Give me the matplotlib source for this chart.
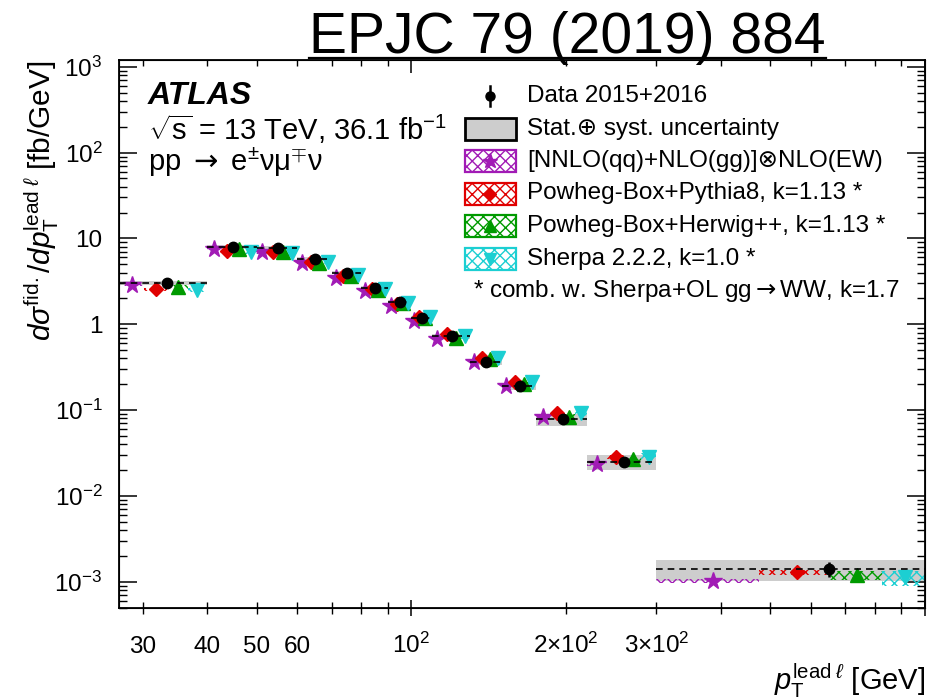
import numpy as np
import matplotlib
matplotlib.use("Agg")
import matplotlib.pyplot as plt
import matplotlib.transforms as mtransforms
from matplotlib.patches import Rectangle
from matplotlib.lines import Line2D
from matplotlib.ticker import FixedLocator, FixedFormatter, NullFormatter

plt.rcParams['font.family'] = ['Liberation Sans', 'DejaVu Sans']
plt.rcParams['mathtext.fontset'] = 'custom'
plt.rcParams['mathtext.rm'] = 'Liberation Sans'
plt.rcParams['mathtext.it'] = 'Liberation Sans:italic'
plt.rcParams['mathtext.bf'] = 'Liberation Sans:bold'
plt.rcParams['mathtext.sf'] = 'DejaVu Sans'
plt.rcParams['hatch.linewidth'] = 1.0

# binning in leading-lepton pT [GeV]
bin_edges = [27, 40, 50, 60, 70, 80, 90, 100, 110, 130, 150, 175, 220, 300, 1000]

# measured fiducial cross section [fb/GeV]
data = [3.0, 7.9, 7.7, 5.8, 4.0, 2.65, 1.83, 1.17, 0.72, 0.36, 0.19, 0.078, 0.025, 1.4e-3]
data_stat = [0.02, 0.015, 0.015, 0.015, 0.02, 0.02, 0.025, 0.03, 0.03, 0.04, 0.05, 0.07, 0.08, 0.20]
data_tot = [0.05, 0.05, 0.05, 0.05, 0.05, 0.05, 0.055, 0.06, 0.06, 0.08, 0.10, 0.16, 0.20, 0.27]

# predictions
nnlo = [2.9, 7.55, 6.9, 5.2, 3.5, 2.45, 1.65, 1.1, 0.68, 0.36, 0.19, 0.083, 0.0235, 1.02e-3]
nnlo_err = [0.04, 0.04, 0.04, 0.04, 0.04, 0.04, 0.04, 0.04, 0.04, 0.04, 0.04, 0.05, 0.05, 0.06]
pythia = [2.55, 7.2, 6.9, 5.35, 3.65, 2.55, 1.72, 1.2, 0.76, 0.40, 0.21, 0.093, 0.0285, 1.28e-3]
pythia_err = [0.05, 0.05, 0.05, 0.05, 0.05, 0.05, 0.05, 0.05, 0.05, 0.05, 0.05, 0.06, 0.06, 0.07]
herwig = [2.7, 7.55, 6.95, 5.2, 3.6, 2.5, 1.75, 1.17, 0.70, 0.39, 0.20, 0.083, 0.0267, 1.2e-3]
herwig_err = [0.05, 0.05, 0.05, 0.05, 0.05, 0.05, 0.05, 0.05, 0.05, 0.05, 0.06, 0.07, 0.08, 0.12]
sherpa = [2.5, 7.0, 6.7, 5.3, 3.7, 2.6, 1.78, 1.22, 0.72, 0.40, 0.215, 0.093, 0.0285, 1.12e-3]
sherpa_err = [0.06, 0.06, 0.06, 0.06, 0.06, 0.06, 0.06, 0.06, 0.06, 0.06, 0.07, 0.08, 0.10, 0.20]

PURPLE = '#a11bb5'
RED = '#e00000'
GREEN = '#009a00'
CYAN = '#1ccfd2'
GREY = '#cdcdcd'

# (values, rel. unc., colour, marker, size, label)
models = [
    (nnlo, nnlo_err, PURPLE, '*', 13, '[NNLO(qq)+NLO(gg)]⊗NLO(EW)'),
    (pythia, pythia_err, RED, 'D', 7, 'Powheg-Box+Pythia8, k=1.13 *'),
    (herwig, herwig_err, GREEN, '^', 10.5, 'Powheg-Box+Herwig++, k=1.13 *'),
    (sherpa, sherpa_err, CYAN, 'v', 10.5, 'Sherpa 2.2.2, k=1.0 *'),
]

edges = np.array(bin_edges, dtype=float)
lo, hi = edges[:-1], edges[1:]
width = hi - lo
centre = lo + 0.5 * width
d = np.array(data)

fig = plt.figure(figsize=(9.41, 6.99), dpi=100)
ax = fig.add_axes([119 / 941, 1 - 607.5 / 699, (925 - 119) / 941, (607.5 - 60) / 699])
ax.set_xscale('log')
ax.set_yscale('log')
ax.set_xlim(27, 1000)
ax.set_ylim(5e-4, 1.2e3)

# total uncertainty boxes
ax.bar(lo, 2 * d * np.array(data_tot), width=width, bottom=d * (1 - np.array(data_tot)),
       align='edge', color=GREY, lw=0, zorder=1)

# each prediction takes one quarter of the bin
for i, (vals, err, col, mk, ms, lab) in enumerate(models):
    v = np.array(vals)
    e = np.array(err)
    ax.bar(lo + i * width / 4, 2 * v * e, width=width / 4, bottom=v * (1 - e), align='edge',
           fill=False, hatch='xxx', edgecolor=col, lw=0, zorder=2)
    ax.plot(lo + (i + 0.5) * width / 4, v, ls='none', marker=mk, ms=ms, color=col,
            mec=col, zorder=3)

ax.hlines(d, lo, hi, colors='k', linestyles=(0, (4, 3)), lw=1.2, zorder=4)
ax.errorbar(centre, d, yerr=d * np.array(data_stat), fmt='o', color='k', ms=7.5,
            elinewidth=1.8, capsize=0, zorder=5)

# axis ticks
xminor = [30, 40, 50, 60, 70, 80, 90, 200, 300, 400, 500, 600, 700, 800, 900]
ax.xaxis.set_major_locator(FixedLocator([100, 1000]))
ax.xaxis.set_major_formatter(FixedFormatter([r'$10^{2}$', '']))
ax.xaxis.set_minor_locator(FixedLocator(xminor))
ax.xaxis.set_minor_formatter(FixedFormatter(['30', '40', '50', '60', '', '', '',
                                             r'2$\times$$10^{2}$', r'3$\times$$10^{2}$',
                                             '', '', '', '', '', '']))
ax.tick_params(axis='x', which='both', direction='inout', top=False, labelsize=17.5)
ax.tick_params(axis='x', which='major', length=11.5, width=1.1, pad=27)
ax.tick_params(axis='x', which='minor', length=8.6, width=1.0, pad=28.5)
for t in ax.xaxis.get_ticklabels(which='both'):
    t.set_verticalalignment('baseline')

ax.yaxis.set_major_locator(FixedLocator([1e-3, 1e-2, 1e-1, 1, 10, 100, 1000]))
ax.yaxis.set_major_formatter(FixedFormatter([r'$10^{-3}$', r'$10^{-2}$', r'$10^{-1}$', '1', '10',
                                             r'$10^{2}$', r'$10^{3}$']))
ax.yaxis.set_minor_locator(FixedLocator([m * 10.0 ** k for k in range(-4, 3) for m in range(2, 10)]))
ax.yaxis.set_minor_formatter(NullFormatter())
ax.tick_params(axis='y', which='both', direction='in', right=True, labelsize=17.5, pad=12)
ax.tick_params(axis='y', which='major', length=13, width=1.1)
ax.tick_params(axis='y', which='minor', length=6, width=1.0)
for s in ax.spines.values():
    s.set_linewidth(1.3)

# top axis ticks point inwards only
ax_top = ax.twiny()
ax_top.set_xscale('log')
ax_top.set_xlim(ax.get_xlim())
ax_top.xaxis.set_major_locator(FixedLocator([100, 1000]))
ax_top.xaxis.set_minor_locator(FixedLocator(xminor))
ax_top.tick_params(axis='x', which='both', direction='in', labeltop=False)
ax_top.tick_params(axis='x', which='major', length=9, width=1.1)
ax_top.tick_params(axis='x', which='minor', length=4.5, width=1.0)
ax_top.xaxis.set_major_formatter(NullFormatter())
ax_top.xaxis.set_minor_formatter(NullFormatter())

ax.set_ylabel(r'$d\sigma^{\mathrm{fid.}}/dp_{\mathrm{T}}^{\mathrm{lead}\;\ell}$ [fb/GeV]',
              fontsize=21.5, ha='right', va='center', y=1.0)
ax.yaxis.set_label_coords(-0.0955, 1.0)
ax.set_xlabel(r'$p_{\mathrm{T}}^{\mathrm{lead}\;\ell}$ [GeV]', fontsize=21, ha='right', va='center')
ax.xaxis.set_label_coords(1.0, -0.133)

# pixel coordinates, origin top left
px = mtransforms.Affine2D().scale(1 / 941, -1 / 699).translate(0, 1) + fig.transFigure

fig.text(309, 53, 'EPJC 79 (2019) 884', transform=px, fontsize=41, va='baseline', ha='left')
fig.add_artist(Line2D([309, 826], [57.5, 57.5], transform=px, color='k', lw=1.6))

fig.text(148, 96, 'ATLAS', transform=px, fontsize=23, weight='bold', style='italic', va='center')
fig.text(148, 129, r'$\sqrt{\mathrm{s}}$ = 13 TeV, 36.1 fb$^{-1}$', transform=px, fontsize=21,
         va='center')
fig.text(148, 162, r'pp $\mathsf{\rightarrow}$ e$^{\pm}$νμ$^{\mp}$ν', transform=px, fontsize=21,
         va='center')

# legend
rows = [96, 128.5, 161, 193.5, 226, 258.5]
x0, x1, h = 465, 516, 22
xm = 0.5 * (x0 + x1)
fig.add_artist(Line2D([xm, xm], [rows[0] - 10, rows[0] + 10], transform=px, color='k', lw=1.8))
fig.add_artist(Line2D([xm], [rows[0]], transform=px, marker='o', ms=6.5, color='k'))
fig.text(527, rows[0], 'Data 2015+2016', transform=px, fontsize=17.5, va='center')

fig.add_artist(Rectangle((x0, rows[1] - h / 2), x1 - x0, h, transform=px, facecolor=GREY,
                         edgecolor='k', lw=2))
fig.text(527, rows[1], 'Stat.⊕ syst. uncertainty', transform=px, fontsize=17.5, va='center')

for (vals, err, col, mk, ms, lab), y in zip(models, rows[2:]):
    fig.add_artist(Rectangle((x0, y - h / 2), x1 - x0, h, transform=px, facecolor='white',
                             edgecolor=col, hatch='xxx', lw=1.6))
    fig.add_artist(Line2D([xm], [y], transform=px, marker=mk, ms=ms * 0.85, color=col, ls='none'))
    fig.text(527, y, lab, transform=px, fontsize=17.5, va='center')

fig.text(473, 291, r'* comb. w. Sherpa+OL gg$\mathsf{\rightarrow}$WW, k=1.7', transform=px,
         fontsize=17.5, va='center')

fig.savefig('out.png', dpi=100)
